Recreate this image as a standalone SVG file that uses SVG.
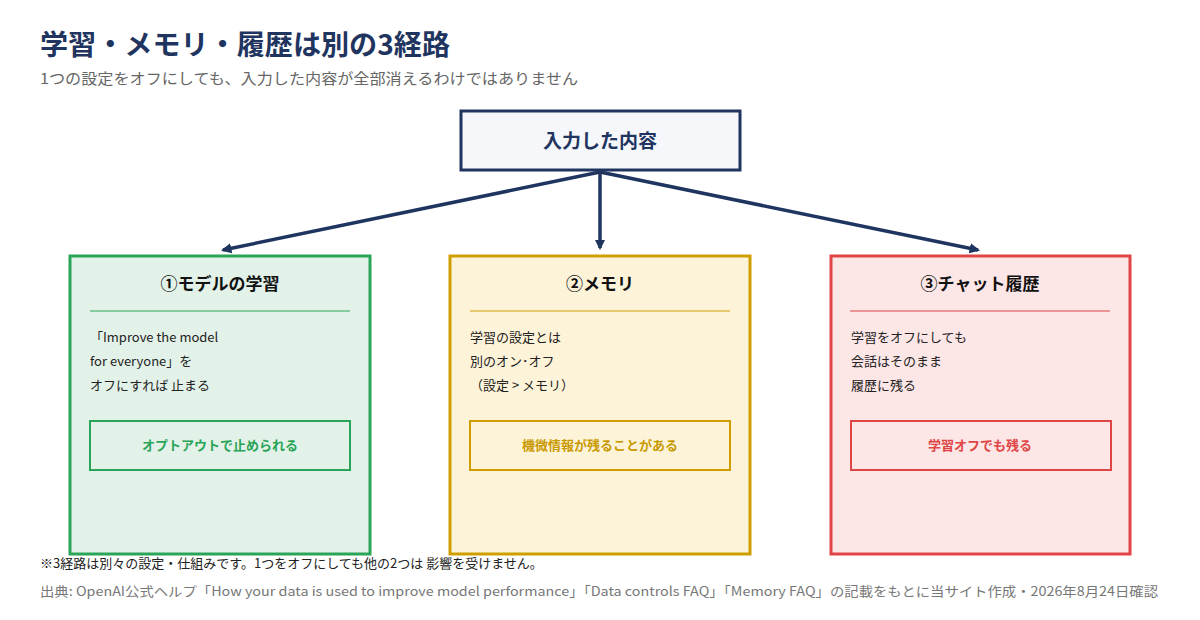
<svg xmlns="http://www.w3.org/2000/svg" width="1200" height="620" viewBox="0 0 1200 620">
<style>
text{font-family:"Noto Sans CJK JP","Noto Sans",sans-serif}
.t{font-size:28px;font-weight:bold;fill:#1f3560}
.s{font-size:15px;fill:#666}
.h{font-size:17px;font-weight:bold;fill:#111;text-anchor:middle}
.b{font-size:13px;fill:#222}
.tag{font-size:13px;font-weight:bold;text-anchor:middle}
.c{stroke:#1f3560;stroke-width:3.5;fill:none}
</style>
<defs><marker id="a" viewBox="0 0 10 10" refX="8" refY="5" markerWidth="3" markerHeight="3" orient="auto"><path d="M0,0L10,5L0,10z" fill="#1f3560"/></marker></defs>
<rect width="1200" height="620" fill="#fff"/>
<text x="40" y="55" class="t" textLength="410" lengthAdjust="spacingAndGlyphs">学習・メモリ・履歴は別の3経路</text>
<text x="40" y="84" class="s" textLength="538" lengthAdjust="spacingAndGlyphs">1つの設定をオフにしても、入力した内容が全部消えるわけではありません</text>
<g id="input"><rect x="461" y="111" width="279" height="59" fill="#f5f7fb" stroke="#1f3560" stroke-width="3"/><text x="600" y="148" text-anchor="middle" font-size="19" font-weight="bold" fill="#1f3560">入力した内容</text></g>
<g id="connectors">
<line x1="600" y1="172" x2="223" y2="250" class="c" marker-end="url(#a)"/>
<line x1="600" y1="172" x2="600" y2="248" class="c" marker-end="url(#a)"/>
<line x1="600" y1="172" x2="978" y2="250" class="c" marker-end="url(#a)"/>
</g>
<g id="n1"><rect x="70" y="256" width="300" height="298" fill="#e3f2e9" stroke="#2aa458" stroke-width="3"/>
<text x="220" y="290" class="h">①モデルの学習</text><line x1="90" y1="311" x2="350" y2="311" stroke="#2aa458"/>
<text class="b"><tspan x="90" y="342">「Improve the model</tspan><tspan x="90" y="366">for  everyone」を</tspan><tspan x="90" y="390">オフにすれば 止まる</tspan></text>
<rect x="90" y="421" width="260" height="49" fill="none" stroke="#2aa458" stroke-width="2"/><text x="220" y="450" class="tag" fill="#2aa458">オプトアウトで止められる</text></g>
<g id="n2"><rect x="450" y="256" width="300" height="298" fill="#fdf3d8" stroke="#cf9f00" stroke-width="3"/>
<text x="600" y="290" class="h">②メモリ</text><line x1="470" y1="311" x2="730" y2="311" stroke="#cf9f00"/>
<text class="b"><tspan x="470" y="342">学習の設定とは</tspan><tspan x="470" y="366">別のオン･オフ</tspan><tspan x="470" y="390">（設定 &gt; メモリ）</tspan></text>
<rect x="470" y="421" width="260" height="49" fill="none" stroke="#cf9f00" stroke-width="2"/><text x="600" y="450" class="tag" fill="#c99a00">機微情報が残ることがある</text></g>
<g id="n3"><rect x="831" y="256" width="299" height="298" fill="#fce6e6" stroke="#e04545" stroke-width="3"/>
<text x="980" y="290" class="h">③チャット履歴</text><line x1="850" y1="311" x2="1110" y2="311" stroke="#e04545"/>
<text class="b"><tspan x="851" y="342">学習をオフにしても</tspan><tspan x="851" y="366">会話はそのまま</tspan><tspan x="851" y="390">履歴に残る</tspan></text>
<rect x="851" y="421" width="260" height="49" fill="none" stroke="#e04545" stroke-width="2"/><text x="980" y="450" class="tag" fill="#e04545">学習オフでも残る</text></g>
<text x="40" y="568" font-size="13" fill="#222">※3経路は別々の設定・仕組みです。1つをオフにしても他の2つは 影響を受けません。</text>
<text x="40" y="596" font-size="13" fill="#777" textLength="1118" lengthAdjust="spacingAndGlyphs">出典: OpenAI公式ヘルプ「How your data is used to improve model performance」「Data controls FAQ」「Memory FAQ」の記載をもとに当サイト作成・2026年8月24日確認</text>
</svg>
